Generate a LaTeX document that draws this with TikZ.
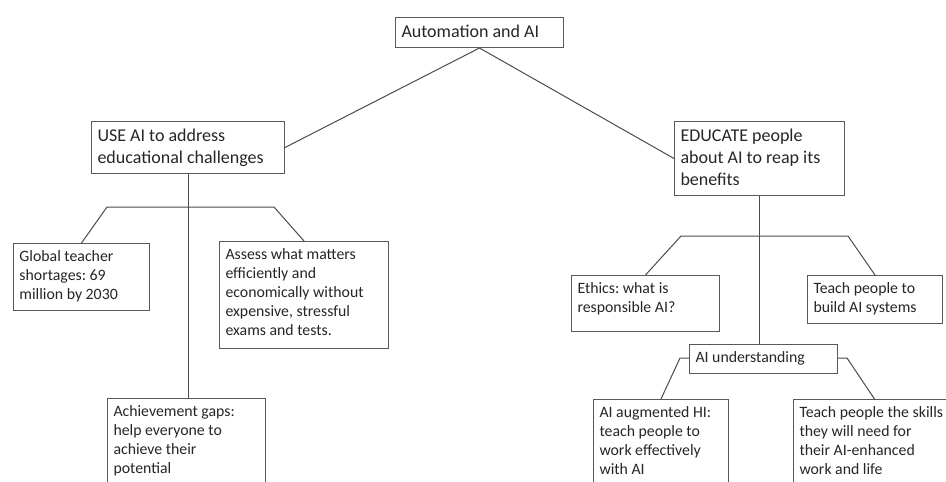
\documentclass[tikz,border=0pt]{standalone}
\usepackage{fontspec}
\setmainfont{Carlito}
\frenchspacing

\newcommand{\cardtext}[3]{\parbox[t][#2][t]{#1}{\raggedright\strut #3}}

\begin{document}
\begin{tikzpicture}[x=1pt, y=-1pt,
    card/.style={draw=black!65, line width=1pt, anchor=north west,
        inner xsep=6pt, inner ysep=5pt, text=black!85,
        font=\fontsize{15.8}{19}\selectfont},
    topcard/.style={card, font=\fontsize{18}{22}\selectfont},
    link/.style={draw=black!70, line width=1pt}]

    \useasboundingbox (0,0) rectangle (946,482);
    \fill[white] (0,0) rectangle (946,482);

    % top level
    \node[topcard] (auto) at (395,17) {\cardtext{156pt}{20pt}{Automation and AI}};
    \node[topcard] (use) at (91,121) {\cardtext{181pt}{42pt}{USE AI to address\\ educational challenges}};
    \node[topcard] (edu) at (674,121) {\cardtext{158pt}{64pt}{EDUCATE people\\ about AI to reap its\\ benefits}};

    \draw[link] (use.east) -- (auto.south) -- (edu.west);

    % left branch
    \node[card] (glob) at (13,243) {\cardtext{124pt}{57pt}{Global teacher\\ shortages: 69\\ million by 2030}};
    \node[card] (assess) at (219,241) {\cardtext{157pt}{97pt}{Assess what matters\\ efficiently and\\ economically without\\ expensive, stressful\\ exams and tests.}};
    \node[card] (achieve) at (107,398) {\cardtext{146pt}{100pt}{Achievement gaps:\\ help everyone to\\ achieve their\\ potential}};

    \coordinate (ul) at (107,207);
    \coordinate (ur) at (274,207);
    \draw[link] (use.south) -- (use.south |- achieve.north);
    \draw[link] (glob.north) -- (ul) -- (ur) -- (assess.north);

    % right branch
    \node[card] (ethics) at (571,275) {\cardtext{136pt}{46pt}{Ethics: what is\\ responsible AI?}};
    \node[card] (build) at (807,275) {\cardtext{123pt}{38pt}{Teach people to\\ build AI systems}};
    \node[card] (underst) at (689,344) {\cardtext{136pt}{19pt}{AI understanding}};
    \node[card] (augment) at (593,399) {\cardtext{123pt}{100pt}{AI augmented HI:\\ teach people to\\ work effectively\\ with AI}};
    \node[card] (skills) at (793,399) {\cardtext{150pt}{100pt}{Teach people the skills\\ they will need for\\ their AI-enhanced\\ work and life}};

    \coordinate (el) at (681,236);
    \coordinate (er) at (848,236);
    \coordinate (sl) at (680,358);
    \coordinate (sr) at (847,358);
    \draw[link] (edu.south) -- (edu.south |- underst.north);
    \draw[link] (ethics.north) -- (el) -- (er) -- (build.north);
    \draw[link] (underst.west |- sl) -- (sl) -- (augment.north);
    \draw[link] (underst.east |- sr) -- (sr) -- (skills.north);
\end{tikzpicture}
\end{document}
